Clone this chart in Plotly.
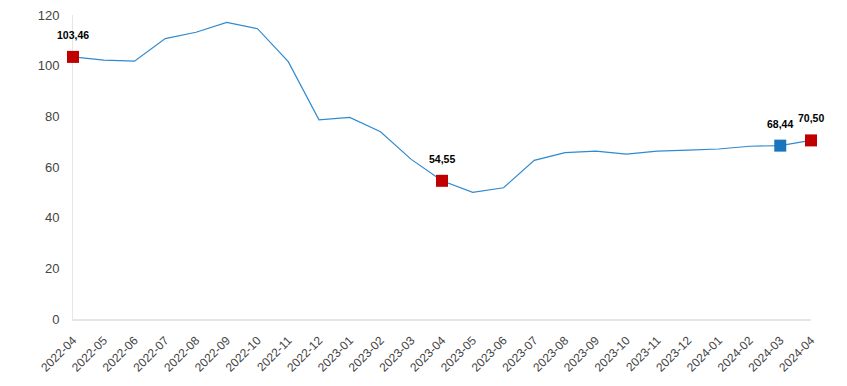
import plotly.graph_objects as go

months = ["2022-04","2022-05","2022-06","2022-07","2022-08","2022-09","2022-10","2022-11","2022-12",
          "2023-01","2023-02","2023-03","2023-04","2023-05","2023-06","2023-07","2023-08","2023-09",
          "2023-10","2023-11","2023-12","2024-01","2024-02","2024-03","2024-04"]
values = [103.46, 102.2, 101.8, 110.7, 113.2, 117.1, 114.6, 101.6, 78.6,
          79.6, 73.9, 63.0, 54.55, 50.0, 51.8, 62.6, 65.7, 66.3,
          65.1, 66.3, 66.7, 67.1, 68.2, 68.44, 70.50]

highlight_months = ["2022-04", "2023-04", "2024-03", "2024-04"]
highlight_colors = ["#C00000", "#C00000", "#1A75BC", "#C00000"]

line_color = "#2F8AD0"

fig = go.Figure()
fig.add_trace(go.Scatter(x=months, y=values, mode="lines", cliponaxis=False,
                         line=dict(color=line_color, width=1.2), hoverinfo="skip"))

hl_vals = [values[months.index(m)] for m in highlight_months]
fig.add_trace(go.Scatter(x=highlight_months, y=hl_vals, mode="markers", cliponaxis=False,
                         marker=dict(symbol="square", size=12, color=highlight_colors,
                                     line=dict(width=0)),
                         hoverinfo="skip"))

for m, v in zip(highlight_months, hl_vals):
    fig.add_annotation(x=m, y=v, text="<b>" + f"{v:.2f}".replace(".", ",") + "</b>",
                       showarrow=False, yshift=22, yanchor="middle",
                       font=dict(family="Liberation Sans, Arial", size=10.5, color="#000"))

fig.update_layout(
    width=831, height=370,
    margin=dict(l=65, r=28, t=7, b=59, autoexpand=False),
    paper_bgcolor="white", plot_bgcolor="white",
    showlegend=False,
    font=dict(family="Liberation Sans, Arial", color="#444"),
)
fig.update_xaxes(type="category", range=[0, len(months) - 1], automargin=False,
                 tickangle=-45, tickfont=dict(size=12, color="#444"),
                 showgrid=False, showline=True, linecolor="#e6e6e6", linewidth=1.5,
                 ticks="", ticklabelstandoff=8, zeroline=False, layer="below traces",
                 ticklabeloverflow="allow")
fig.update_yaxes(range=[0, 120], dtick=20, tickfont=dict(size=13, color="#444"),
                 automargin=False, layer="below traces", ticklabeloverflow="allow",
                 showgrid=False, showline=True, linecolor="#e6e6e6", linewidth=1,
                 ticks="", ticklabelstandoff=10, zeroline=False)

fig.write_html("out.html")
